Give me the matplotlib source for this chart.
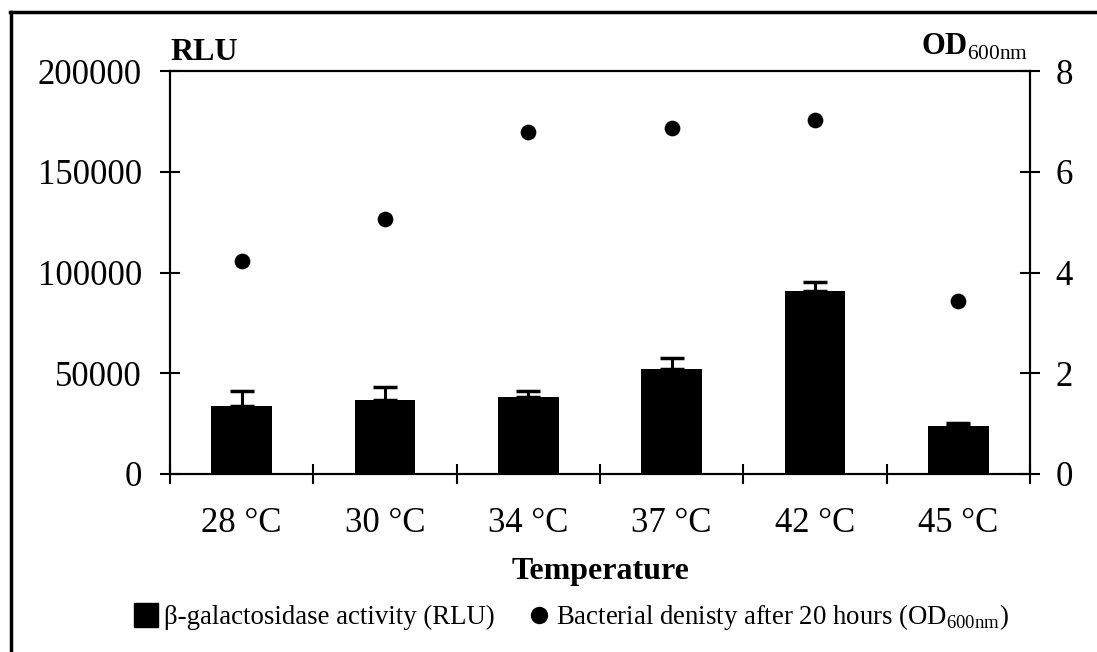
import numpy as np
import matplotlib.pyplot as plt
from matplotlib.lines import Line2D

plt.rcParams['font.family'] = ['Liberation Serif', 'DejaVu Serif']
plt.rcParams['mathtext.fontset'] = 'custom'
plt.rcParams['mathtext.rm'] = 'Liberation Serif'
plt.rcParams['mathtext.bf'] = 'Liberation Serif:bold'

# data
temps = ['28 °C', '30 °C', '34 °C', '37 °C', '42 °C', '45 °C']
rlu = [33800, 36700, 38400, 51900, 90800, 24000]
rlu_err = [7200, 6600, 2600, 5800, 4300, 1300]
od600 = [4.23, 5.06, 6.78, 6.86, 7.03, 3.44]

x = np.arange(len(temps))

fig = plt.figure(figsize=(10.97, 6.52), dpi=100)
ax1 = fig.add_axes([170/1097, 1-474/652, 860/1097, 403/652])
ax2 = ax1.twinx()

ax1.bar(x, rlu, width=0.425, color='black', zorder=2)
ax1.errorbar(x, rlu, yerr=[np.zeros(len(rlu)), rlu_err], fmt='none',
             ecolor='black', elinewidth=2.2, capsize=8.6, capthick=2.5, zorder=1)
ax2.plot(x, od600, 'o', color='black', markersize=10.3, linestyle='none')

ax1.set_xlim(-0.5, len(temps) - 0.5)
ax1.set_ylim(0, 200000)
ax2.set_ylim(0, 8)
ax1.set_yticks([0, 50000, 100000, 150000, 200000])
ax2.set_yticks([0, 2, 4, 6, 8])

ax1.set_xticks(x)
ax1.set_xticklabels(temps)
ax1.set_xticks(np.arange(-0.5, len(temps)), minor=True)
ax1.tick_params(axis='x', which='major', length=0, pad=24, labelsize=25)
ax1.tick_params(axis='x', which='minor', length=14.4, width=1.5, direction='inout')
ax1.tick_params(axis='y', length=14.4, width=1.5, direction='inout', pad=13, labelsize=25)
ax2.tick_params(axis='y', length=14.4, width=1.5, direction='inout', pad=11, labelsize=25)

for a in (ax1, ax2):
    for s in a.spines.values():
        s.set_linewidth(1.5)

ax1.set_xlabel('Temperature', fontsize=23, fontweight='bold', labelpad=12)
ax1.text(0.0, 1 + 11/403, 'RLU', transform=ax1.transAxes, fontsize=23,
         fontweight='bold', ha='left', va='baseline')
ax2.text(1 - 2/860, 1 + 16/403, r'$\mathbf{OD}_{\mathrm{600nm}}$', transform=ax2.transAxes,
         fontsize=22, ha='right', va='baseline')

handles = [Line2D([], [], marker='s', color='black', linestyle='none', markersize=17.3),
           Line2D([], [], marker='o', color='black', linestyle='none', markersize=11.5)]
labels = ['β-galactosidase activity (RLU)',
          r'Bacterial denisty after 20 hours (OD$_{\mathrm{600nm}}$)']
fig.legend(handles, labels, loc='center', bbox_to_anchor=(571/1097, 1-617/652),
           ncol=2, frameon=False, fontsize=19.3, handletextpad=0.15, columnspacing=1.15,
           handlelength=1.0, borderpad=0, borderaxespad=0)

# outer frame (top and left edges visible)
fig.add_artist(Line2D([10/1097, 1.0], [1-12/652, 1-12/652], color='black', linewidth=2.5,
                      transform=fig.transFigure))
fig.add_artist(Line2D([11/1097, 11/1097], [1-12/652, 0.0], color='black', linewidth=2.5,
                      transform=fig.transFigure))

fig.savefig('out.png', dpi=100)
